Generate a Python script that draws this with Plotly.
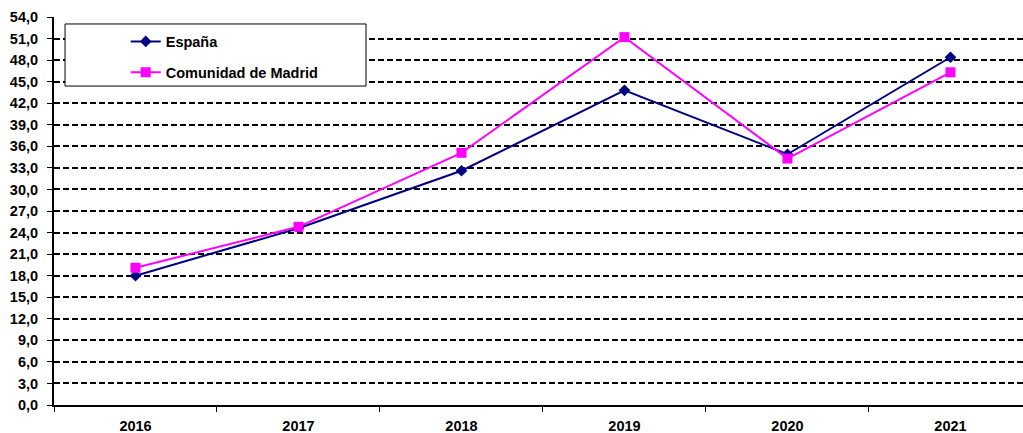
import plotly.graph_objects as go

years = ["2016", "2017", "2018", "2019", "2020", "2021"]
espana = [18.0, 24.6, 32.6, 43.8, 34.9, 48.4]
madrid = [19.1, 24.8, 35.1, 51.2, 34.3, 46.3]

font_family = "Arial, Liberation Sans, sans-serif"
tick_font = dict(family=font_family, size=14.5, color="black", weight="bold")
legend_font = dict(family=font_family, size=14.5, color="black", weight="bold")

fig = go.Figure()
fig.add_trace(go.Scatter(
    x=years, y=espana, name="España", mode="lines+markers",
    line=dict(color="#000080", width=2),
    marker=dict(symbol="diamond", size=9, color="#000080"),
    legendgroup="a",
))
fig.add_trace(go.Scatter(
    x=years, y=madrid, name="Comunidad de Madrid", mode="lines+markers",
    line=dict(color="#FF00FF", width=2),
    marker=dict(symbol="square", size=10, color="#FF00FF"),
    legendgroup="b",
))

# legend frame
fig.add_shape(type="rect", xref="paper", yref="paper",
              x0=0.0114, x1=0.322, y0=0.822, y1=0.982,
              line=dict(color="black", width=1), fillcolor="white", layer="above")

fig.update_layout(
    width=1023, height=433,
    margin=dict(l=54, r=0, t=17, b=28),
    plot_bgcolor="white", paper_bgcolor="white",
    separators=",.",
    showlegend=True,
    legend=dict(x=0.074, y=0.978, xanchor="left", yanchor="top",
                bgcolor="rgba(0,0,0,0)", borderwidth=0,
                font=legend_font, traceorder="grouped", tracegroupgap=9),
    xaxis=dict(type="category", range=[-0.5, 5.445],
               showline=True, linecolor="black", linewidth=2,
               ticks="outside", tickson="boundaries", ticklen=5, tickcolor="black",
               ticklabelstandoff=7,
               showgrid=False, zeroline=False, tickfont=tick_font),
    yaxis=dict(range=[0, 54], dtick=3, tick0=0, tickformat=".1f",
               showline=True, linecolor="black", linewidth=2,
               ticks="outside", ticklen=5, tickcolor="black",
               ticklabelstandoff=6,
               showgrid=True, gridcolor="black", gridwidth=2, griddash="6px,3px",
               zeroline=False, tickfont=tick_font),
)

fig.write_html("out.html")
